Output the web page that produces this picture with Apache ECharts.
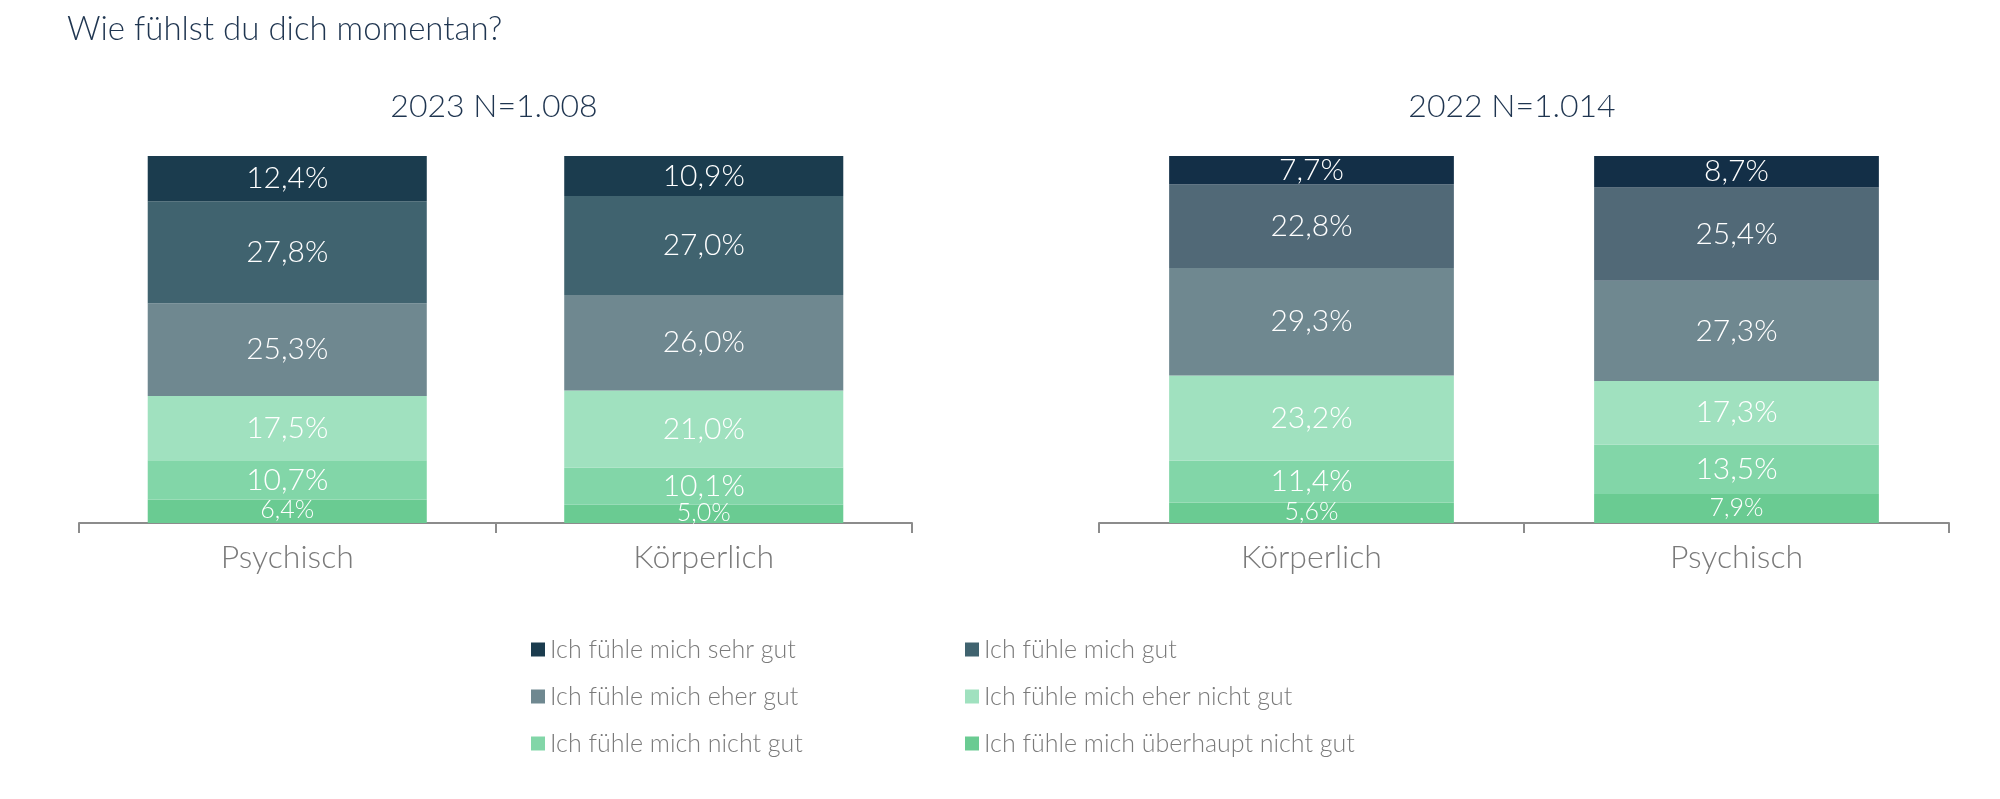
<!DOCTYPE html>
<html>
<head>
<meta charset="utf-8">
<script src="https://cdn.jsdelivr.net/npm/echarts@6/dist/echarts.min.js"></script>
<style>
  html, body { margin: 0; padding: 0; background: #fff; }
  #chart { width: 2000px; height: 799px; }
</style>
</head>
<body>
<div id="chart"></div>
<script>
// Kategorien
var cats2023 = ["Psychisch", "Körperlich"];
var cats2022 = ["Körperlich", "Psychisch"];
var levels = [
  "Ich fühle mich sehr gut",
  "Ich fühle mich gut",
  "Ich fühle mich eher gut",
  "Ich fühle mich eher nicht gut",
  "Ich fühle mich nicht gut",
  "Ich fühle mich überhaupt nicht gut"
];
// Werte in %, von oben (sehr gut) nach unten (überhaupt nicht gut)
var sehrGut2023 = [12.4, 10.9];
var gut2023 = [27.8, 27.0];
var eherGut2023 = [25.3, 26.0];
var eherNicht2023 = [17.5, 21.0];
var nicht2023 = [10.7, 10.1];
var garNicht2023 = [6.4, 5.0];

var sehrGut2022 = [7.7, 8.7];
var gut2022 = [22.8, 25.4];
var eherGut2022 = [29.3, 27.3];
var eherNicht2022 = [23.2, 17.3];
var nicht2022 = [11.4, 13.5];
var garNicht2022 = [5.6, 7.9];

var colors2023 = ["#1b3c4e", "#40636f", "#6f8890", "#a0e1bf", "#82d6a8", "#6acb92"];
var colors2022 = ["#132f47", "#516977", "#6f8890", "#a0e1bf", "#82d6a8", "#6acb92"];

var FONT = 'Lato, "Open Sans", Roboto, sans-serif';

var myChart = echarts.init(document.getElementById("chart"));

function makeSeries(vals, colors, idx) {
  // unten zuerst stapeln
  var order = [5, 4, 3, 2, 1, 0];
  var out = [];
  order.forEach(function (k) {
    out.push({
      name: levels[k],
      type: "bar",
      stack: "s" + idx,
      xAxisIndex: idx,
      yAxisIndex: idx,
      barWidth: "67%",
      itemStyle: { color: colors[k] },
      label: {
        show: true,
        position: "inside",
        color: "#ffffff",
        fontFamily: FONT,
        fontWeight: 300,
        fontSize: k == 5 ? 25 : 30,
        offset: k == 5 ? [0, -1] : [0, 0],
        formatter: function (p) {
          return p.value.toFixed(1).replace(".", ",") + "%";
        }
      },
      data: vals[k]
    });
  });
  return out;
}

var series = []
  .concat(makeSeries([sehrGut2023, gut2023, eherGut2023, eherNicht2023, nicht2023, garNicht2023], colors2023, 0))
  .concat(makeSeries([sehrGut2022, gut2022, eherGut2022, eherNicht2022, nicht2022, garNicht2022], colors2022, 1));

function xAx(data, idx) {
  return {
    type: "category",
    gridIndex: idx,
    data: data,
    axisLine: { lineStyle: { color: "#8c8c8c", width: 2 } },
    axisTick: { show: true, length: 10, lineStyle: { color: "#8c8c8c", width: 2 } },
    axisLabel: { color: "#7a7a7a", fontSize: 32, fontWeight: 300, fontFamily: FONT, margin: 19 }
  };
}
function yAx(idx) {
  return {
    type: "value",
    gridIndex: idx,
    min: 0,
    max: 100,
    show: false
  };
}

var legendText = { color: "#7a7a7a", fontSize: 25, fontWeight: 300, fontFamily: FONT };

var option = {
  animation: false,
  title: [
    { text: "Wie fühlst du dich momentan?", left: 62, top: 8,
      textStyle: { color: "#1f3550", fontSize: 33, fontWeight: 300, fontFamily: FONT } },
    { text: "2023 N=1.008", left: 489, top: 86, textAlign: "center",
      textStyle: { color: "#1f3550", fontSize: 32, fontWeight: 300, fontFamily: FONT } },
    { text: "2022 N=1.014", left: 1507, top: 86, textAlign: "center",
      textStyle: { color: "#1f3550", fontSize: 32, fontWeight: 300, fontFamily: FONT } }
  ],
  legend: [
    { orient: "vertical", left: 526, top: 632, itemWidth: 14, itemHeight: 14, itemGap: 22,
      icon: "rect", textStyle: legendText,
      data: [levels[0], levels[2], levels[4]] },
    { orient: "vertical", left: 960, top: 632, itemWidth: 14, itemHeight: 14, itemGap: 22,
      icon: "rect", textStyle: legendText,
      data: [levels[1], levels[3], levels[5]] }
  ],
  grid: [
    { left: 79, width: 833, top: 156, height: 367 },
    { left: 1099, width: 850, top: 156, height: 367 }
  ],
  xAxis: [xAx(cats2023, 0), xAx(cats2022, 1)],
  yAxis: [yAx(0), yAx(1)],
  series: series
};

myChart.setOption(option, true);
</script>
</body>
</html>
